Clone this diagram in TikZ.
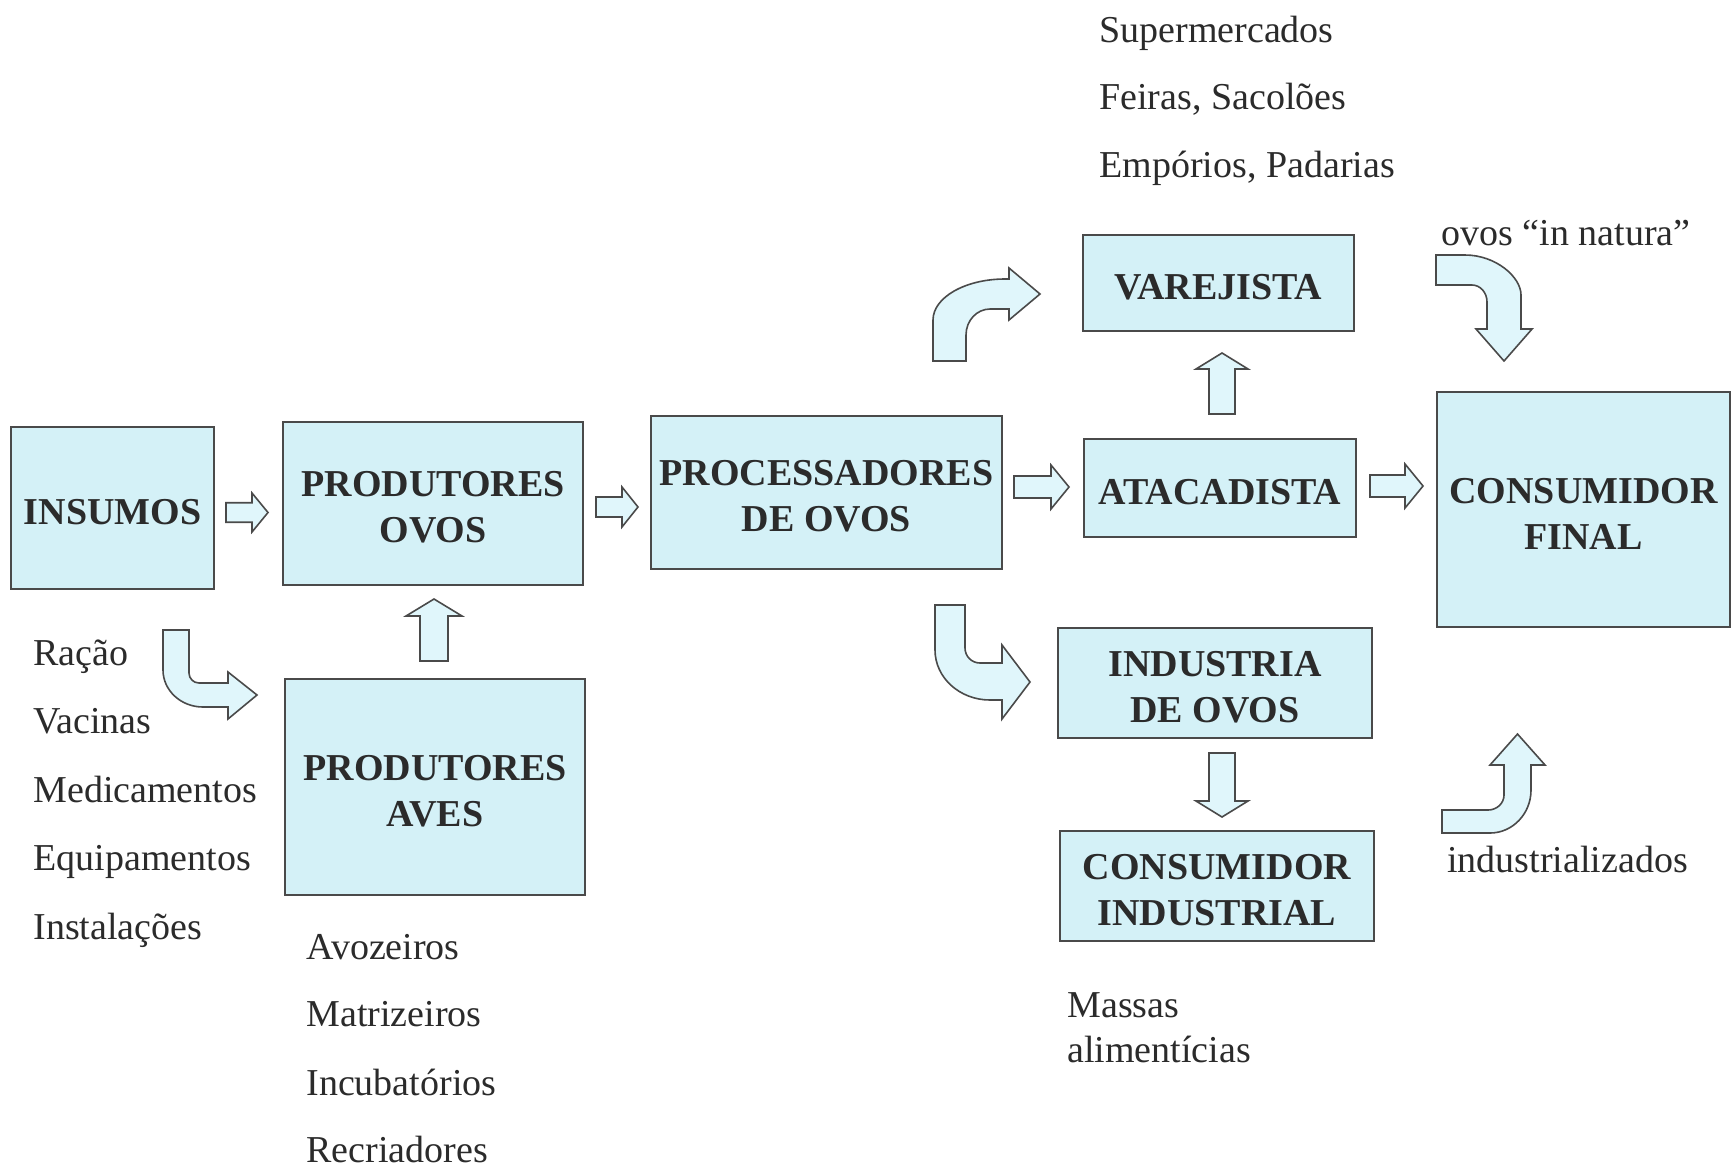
\documentclass[tikz,border=0pt]{standalone}
\usepackage{fontspec}
\setmainfont{Liberation Serif}
\definecolor{boxfill}{HTML}{D4F1F7}
\definecolor{arrfill}{HTML}{E0F6FB}
\definecolor{bordercol}{HTML}{4A4A4A}
\definecolor{txtcol}{HTML}{2B2B2B}
\tikzset{
  box/.style={draw=bordercol, line width=1pt, fill=boxfill, inner sep=0pt},
  boxtxt/.style={align=center, font=\fontsize{19}{23}\selectfont\bfseries, text=txtcol,
    inner sep=0pt, yshift=-2pt},
  lbl/.style={font=\fontsize{19}{22}\selectfont, text=txtcol, inner sep=0pt, anchor=base west},
  barrow/.style={draw=bordercol, line width=0.8pt, fill=arrfill, line join=miter},
  pics/barr/.style n args={3}{code={
    \draw[barrow] ({-#1/2},{-#2/4}) -- ({#1/2-#3},{-#2/4}) -- ({#1/2-#3},{-#2/2})
      -- ({#1/2},0) -- ({#1/2-#3},{#2/2}) -- ({#1/2-#3},{#2/4}) -- ({-#1/2},{#2/4}) -- cycle;}}
}
\begin{document}
\begin{tikzpicture}[x=0.5pt,y=-0.5pt]
\useasboundingbox[fill=white] (0,0) rectangle (1732,1168);

% boxes
\node[box, minimum width=101.5pt, minimum height=81pt,
  label={[boxtxt]center:INSUMOS}] (insumos) at (112.5,508) {};
\node[box, minimum width=150pt, minimum height=81.5pt,
  label={[boxtxt]center:PRODUTORES\\OVOS}] (prodovos) at (433,503.5) {};
\node[box, minimum width=175.5pt, minimum height=76.5pt,
  label={[boxtxt]center:PROCESSADORES\\DE OVOS}] (proc) at (826.5,492.5) {};
\node[box, minimum width=135.5pt, minimum height=48pt,
  label={[boxtxt]center:VAREJISTA}] (varejista) at (1218.5,283) {};
\node[box, minimum width=136pt, minimum height=49pt,
  label={[boxtxt]center:ATACADISTA}] (atacadista) at (1220,488) {};
\node[box, minimum width=146.5pt, minimum height=117.5pt,
  label={[boxtxt]center:CONSUMIDOR\\FINAL}] (consfinal) at (1583.5,509.5) {};
\node[box, minimum width=157pt, minimum height=55pt,
  label={[boxtxt]center:INDUSTRIA\\DE OVOS}] (industria) at (1215,683) {};
\node[box, minimum width=157pt, minimum height=55pt,
  label={[boxtxt]center:CONSUMIDOR\\INDUSTRIAL}] (consind) at (1217,886) {};
\node[box, minimum width=150pt, minimum height=108pt,
  label={[boxtxt]center:PRODUTORES\\AVES}] (aves) at (435,787) {};

% straight block arrows
\pic at (247,512.5) {barr={42}{39}{16}};
\pic at (617,507) {barr={42}{40}{16}};
\pic at (1041.5,487) {barr={55}{44}{18}};
\pic at (1396.5,486) {barr={53}{44}{18}};
\pic[rotate=90] at (434,630) {barr={62}{56}{17}};
\pic[rotate=90] at (1222,383.5) {barr={61}{52}{16}};
\pic[rotate=-90] at (1222,785) {barr={64}{52}{16}};

% curved block arrows
\draw[barrow] (933,361) -- (933,320) .. controls (933,297.4) and (965.3,279) .. (1005,279)
  -- (1009,279) -- (1009,268) -- (1040,294) -- (1009,320) -- (1009,309) -- (990,309)
  .. controls (976.8,309) and (966,320.6) .. (966,335) -- (966,361) -- cycle;
\draw[barrow] (1436,255) -- (1465,255) .. controls (1495.9,255) and (1521,277.1) .. (1521,295)
  -- (1521,329) -- (1532,329) -- (1504,361) -- (1476,329) -- (1487,329) -- (1487,302)
  .. controls (1487,292.6) and (1480.3,285) .. (1472,285) -- (1436,285) -- cycle;
\draw[barrow] (935,605) -- (965,605) -- (965,648) .. controls (965,656.3) and (971.7,663) .. (980,663)
  -- (1002,663) -- (1002,645) -- (1030,682) -- (1002,719) -- (1002,700) -- (990,700)
  .. controls (959.6,700) and (935,677.6) .. (935,650) -- cycle;
\draw[barrow] (163,630) -- (189,630) -- (189,673) .. controls (189,678.5) and (193.5,683) .. (199,683)
  -- (228,683) -- (228,672) -- (257,695) -- (228,719) -- (228,707) -- (203,707)
  .. controls (180.9,707) and (163,690.4) .. (163,670) -- cycle;
\draw[barrow] (1442,810) -- (1488,810) .. controls (1496.8,810) and (1504,803.3) .. (1504,795)
  -- (1504,765) -- (1490,765) -- (1517.5,734) -- (1545,765) -- (1531,765) -- (1531,790)
  .. controls (1531,813.7) and (1512.6,833) .. (1490,833) -- (1442,833) -- cycle;

% labels
\node[lbl] (l1) at (1099,42) {Supermercados};
\node[lbl] (l2) at (1099,109) {Feiras, Sacolões};
\node[lbl] (l3) at (1099,177) {Empórios, Padarias};
\node[lbl] (l4) at (1441,245) {ovos “in natura”};
\node[lbl] (l5) at (33,665) {Ração};
\node[lbl] (l6) at (33,733) {Vacinas};
\node[lbl] (l7) at (33,802) {Medicamentos};
\node[lbl] (l8) at (33,870) {Equipamentos};
\node[lbl] (l9) at (33,939) {Instalações};
\node[lbl] (l10) at (306,959) {Avozeiros};
\node[lbl] (l11) at (306,1026) {Matrizeiros};
\node[lbl] (l12) at (306,1095) {Incubatórios};
\node[lbl] (l13) at (306,1162) {Recriadores};
\node[lbl] (l14) at (1067,1017) {Massas};
\node[lbl] (l15) at (1067,1062) {alimentícias};
\node[lbl] (l16) at (1447,872) {industrializados};
\end{tikzpicture}
\end{document}
